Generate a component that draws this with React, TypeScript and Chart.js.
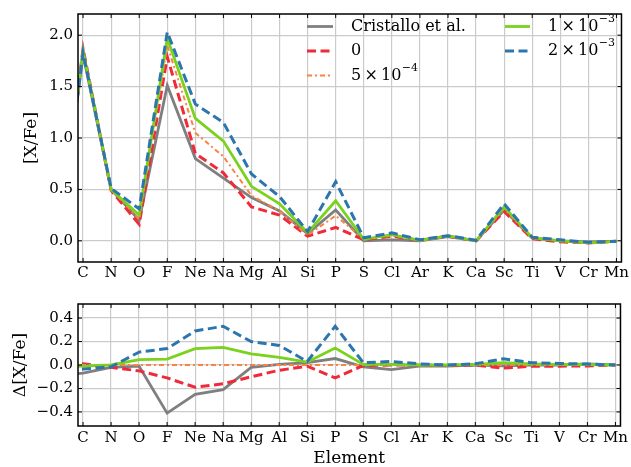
import React, { useEffect, useRef } from 'react';
import { Chart, registerables } from 'chart.js';
Chart.register(...registerables);

// 'B' sits just outside the left edge (only its segment toward C shows)
const elements = ['B', 'C', 'N', 'O', 'F', 'Ne', 'Na', 'Mg', 'Al', 'Si', 'P', 'S', 'Cl', 'Ar', 'K', 'Ca', 'Sc', 'Ti', 'V', 'Cr', 'Mn'];

const seriesLabels = ['Cristallo et al.', '0', '5×10^−4', '1×10^−3', '2×10^−3'];

// [X/Fe]
const cristallo = [-0.35, 1.81, 0.50, 0.20, 1.51, 0.80, 0.61, 0.42, 0.29, 0.07, 0.30, 0.00, 0.01, 0.00, 0.04, 0.00, 0.30, 0.025, 0.00, -0.01, -0.005];
const rate0 = [-0.30, 1.87, 0.49, 0.16, 1.79, 0.85, 0.66, 0.33, 0.25, 0.045, 0.13, 0.01, 0.045, 0.005, 0.045, 0.00, 0.285, 0.02, -0.01, -0.02, -0.005];
const rate5e4 = [-0.31, 1.86, 0.50, 0.21, 1.90, 1.05, 0.82, 0.44, 0.29, 0.055, 0.245, 0.015, 0.05, 0.005, 0.047, 0.00, 0.31, 0.025, 0.00, -0.02, -0.005];
const rate1e3 = [-0.32, 1.85, 0.50, 0.25, 1.97, 1.19, 0.97, 0.53, 0.36, 0.08, 0.39, 0.015, 0.06, 0.005, 0.047, 0.00, 0.33, 0.03, 0.00, -0.02, -0.005];
const rate2e3 = [-0.33, 1.83, 0.51, 0.31, 2.03, 1.33, 1.15, 0.65, 0.43, 0.09, 0.575, 0.03, 0.077, 0.01, 0.05, 0.005, 0.36, 0.035, 0.01, -0.015, -0.005];

// Δ[X/Fe] relative to 5×10^-4
const dCristallo = [-0.09, -0.07, -0.02, -0.01, -0.41, -0.25, -0.21, -0.02, 0.005, 0.02, 0.055, -0.015, -0.04, -0.01, -0.01, 0.0, -0.008, 0.0, 0.0, 0.01, 0.0];
const dRate0 = [0.02, 0.01, -0.02, -0.05, -0.11, -0.19, -0.16, -0.10, -0.045, -0.01, -0.11, -0.005, 0.0, 0.0, -0.005, 0.0, -0.027, -0.01, -0.01, -0.008, 0.0];
const dRate5e4 = [0, 0, 0, 0, 0, 0, 0, 0, 0, 0, 0, 0, 0, 0, 0, 0, 0, 0, 0, 0, 0];
const dRate1e3 = [-0.015, -0.01, 0.0, 0.045, 0.05, 0.14, 0.15, 0.095, 0.065, 0.025, 0.145, 0.005, 0.005, 0.0, 0.0, 0.005, 0.02, 0.01, 0.005, 0.003, 0.0];
const dRate2e3 = [-0.05, -0.035, -0.015, 0.11, 0.14, 0.29, 0.33, 0.20, 0.167, 0.03, 0.33, 0.02, 0.03, 0.01, 0.0, 0.01, 0.053, 0.02, 0.013, 0.008, 0.0];

const topTicks = [0, 0.5, 1.0, 1.5, 2.0];
const bottomTicks = [-0.4, -0.2, 0, 0.2, 0.4];

const styles = [
  { color: '#7f7f7f', width: 2.8, dash: [] as number[] },
  { color: '#ee2a3b', width: 3, dash: [9, 4.5] },
  { color: '#fb8240', width: 2, dash: [5, 3, 2, 3] },
  { color: '#7ad21c', width: 2.8, dash: [] as number[] },
  { color: '#2c76ad', width: 3, dash: [9, 4.5] },
];

const FONT = "'DejaVu Serif', serif";

function makeDatasets(series: number[][]) {
  return series.map((vals, si) => ({
    label: seriesLabels[si],
    data: vals.map((v, i) => ({ x: i - 1, y: v })),
    borderColor: styles[si].color,
    borderWidth: styles[si].width,
    borderDash: styles[si].dash,
    pointRadius: 0,
    tension: 0,
    fill: false,
    order: 5 - si,
  }));
}

const framePlugin = {
  id: 'frame',
  afterDatasetsDraw(chart: any) {
    const { ctx, chartArea: a, scales } = chart;
    ctx.save();
    ctx.strokeStyle = '#000';
    ctx.lineWidth = 1;
    ctx.beginPath();
    scales.x.ticks.forEach((t: any) => {
      const px = scales.x.getPixelForValue(t.value);
      ctx.moveTo(px, a.bottom); ctx.lineTo(px, a.bottom - 4);
      ctx.moveTo(px, a.top); ctx.lineTo(px, a.top + 4);
    });
    scales.y.ticks.forEach((t: any) => {
      const py = scales.y.getPixelForValue(t.value);
      ctx.moveTo(a.left, py); ctx.lineTo(a.left + 4, py);
      ctx.moveTo(a.right, py); ctx.lineTo(a.right - 4, py);
    });
    ctx.stroke();
    ctx.lineWidth = 1.5;
    ctx.strokeRect(a.left, a.top, a.right - a.left, a.bottom - a.top);
    ctx.restore();
  },
};

const legendPlugin = {
  id: 'customLegend',
  afterDatasetsDraw(chart: any) {
    const { ctx } = chart;
    const rows = [26.5, 51, 75.5];
    const cols = [
      { x0: 307, x1: 333, tx: 351 },
      { x0: 505, x1: 530, tx: 548 },
    ];
    ctx.save();
    seriesLabels.forEach((lab, i) => {
      const col = cols[i < 3 ? 0 : 1];
      const y = rows[i < 3 ? i : i - 3];
      const st = styles[i];
      ctx.strokeStyle = st.color;
      ctx.lineWidth = st.width;
      ctx.setLineDash(st.dash);
      ctx.beginPath();
      ctx.moveTo(col.x0, y);
      ctx.lineTo(col.x1, y);
      ctx.stroke();
      ctx.setLineDash([]);
      ctx.fillStyle = '#000';
      ctx.textBaseline = 'middle';
      ctx.textAlign = 'left';
      const [base, exp] = lab.split('^');
      const baseText = exp ? base.replace('×', '\u2009×\u2009') : base;
      ctx.font = "16px 'DejaVu Serif', serif";
      ctx.fillText(baseText, col.tx, y);
      if (exp) {
        const w = ctx.measureText(baseText).width;
        ctx.font = "11px 'DejaVu Serif', serif";
        ctx.fillText(exp, col.tx + w + 0.5, y - 7.5);
      }
    });
    ctx.restore();
  },
};

function baseOptions(opts: {
  padTop: number; xHeight: number; yMin: number; yMax: number; yTicks: number[];
  yTitle: string; yTitlePad: number; xTitle?: string; tickPad: number;
}) {
  const tickFont = { family: FONT, size: 15 };
  return {
    animation: false,
    responsive: false,
    devicePixelRatio: 1,
    layout: { padding: { left: 0, right: 7, top: opts.padTop, bottom: 0 } },
    plugins: { legend: { display: false }, tooltip: { enabled: false }, title: { display: false } },
    scales: {
      x: {
        type: 'linear',
        min: -0.18,
        max: 19.18,
        afterFit: (s: any) => { s.height = opts.xHeight; },
        ticks: {
          stepSize: 1,
          includeBounds: false,
          autoSkip: false,
          maxRotation: 0,
          minRotation: 0,
          padding: opts.tickPad,
          color: '#000',
          font: tickFont,
          callback: (v: number) => (Number.isInteger(v) ? elements[v + 1] ?? '' : ''),
        },
        grid: { color: '#cbcbcb', lineWidth: 1.2, drawTicks: false },
        border: { display: false },
        title: opts.xTitle
          ? { display: true, text: opts.xTitle, color: '#000', font: { family: FONT, size: 17, lineHeight: 1 }, padding: { top: 0, bottom: 0 } }
          : { display: false },
      },
      y: {
        type: 'linear',
        min: opts.yMin,
        max: opts.yMax,
        afterFit: (s: any) => { s.width = 78; },
        afterBuildTicks: (s: any) => { s.ticks = opts.yTicks.map((v) => ({ value: v })); },
        ticks: {
          padding: 5,
          color: '#000',
          font: tickFont,
          callback: (v: number) => (Math.abs(v) < 1e-9 ? '0.0' : v.toFixed(1).replace('-', '\u2212')),
        },
        grid: { color: '#cbcbcb', lineWidth: 1.2, drawTicks: false },
        border: { display: false },
        title: { display: true, text: opts.yTitle, color: '#000', font: { family: FONT, size: 17 }, padding: { top: opts.yTitlePad, bottom: 0 } },
      },
    },
  };
}

export default function App() {
  const topRef = useRef<HTMLCanvasElement>(null);
  const botRef = useRef<HTMLCanvasElement>(null);

  useEffect(() => {
    const top = new Chart(topRef.current as HTMLCanvasElement, {
      type: 'line',
      data: { datasets: makeDatasets([cristallo, rate0, rate5e4, rate1e3, rate2e3]) as any },
      options: baseOptions({
        padTop: 4, xHeight: 28, yMin: -0.206, yMax: 2.206, yTicks: topTicks,
        yTitle: '[X/Fe]', yTitlePad: 21, tickPad: 2,
      }) as any,
      plugins: [framePlugin, legendPlugin],
    });
    const bot = new Chart(botRef.current as HTMLCanvasElement, {
      type: 'line',
      data: { datasets: makeDatasets([dCristallo, dRate0, dRate5e4, dRate1e3, dRate2e3]) as any },
      options: baseOptions({
        padTop: 7, xHeight: 41, yMin: -0.52, yMax: 0.52, yTicks: bottomTicks,
        yTitle: 'Δ[X/Fe]', yTitlePad: 10, xTitle: 'Element', tickPad: 3,
      }) as any,
      plugins: [framePlugin],
    });
    return () => {
      top.destroy();
      bot.destroy();
    };
  }, []);

  return (
    <div style={{ position: 'fixed', left: 0, top: 0, width: 631, height: 467, background: '#fff' }}>
      <canvas ref={topRef} width={631} height={290} style={{ position: 'absolute', left: 0, top: 0 }} />
      <canvas ref={botRef} width={631} height={177} style={{ position: 'absolute', left: 0, top: 290 }} />
    </div>
  );
}
